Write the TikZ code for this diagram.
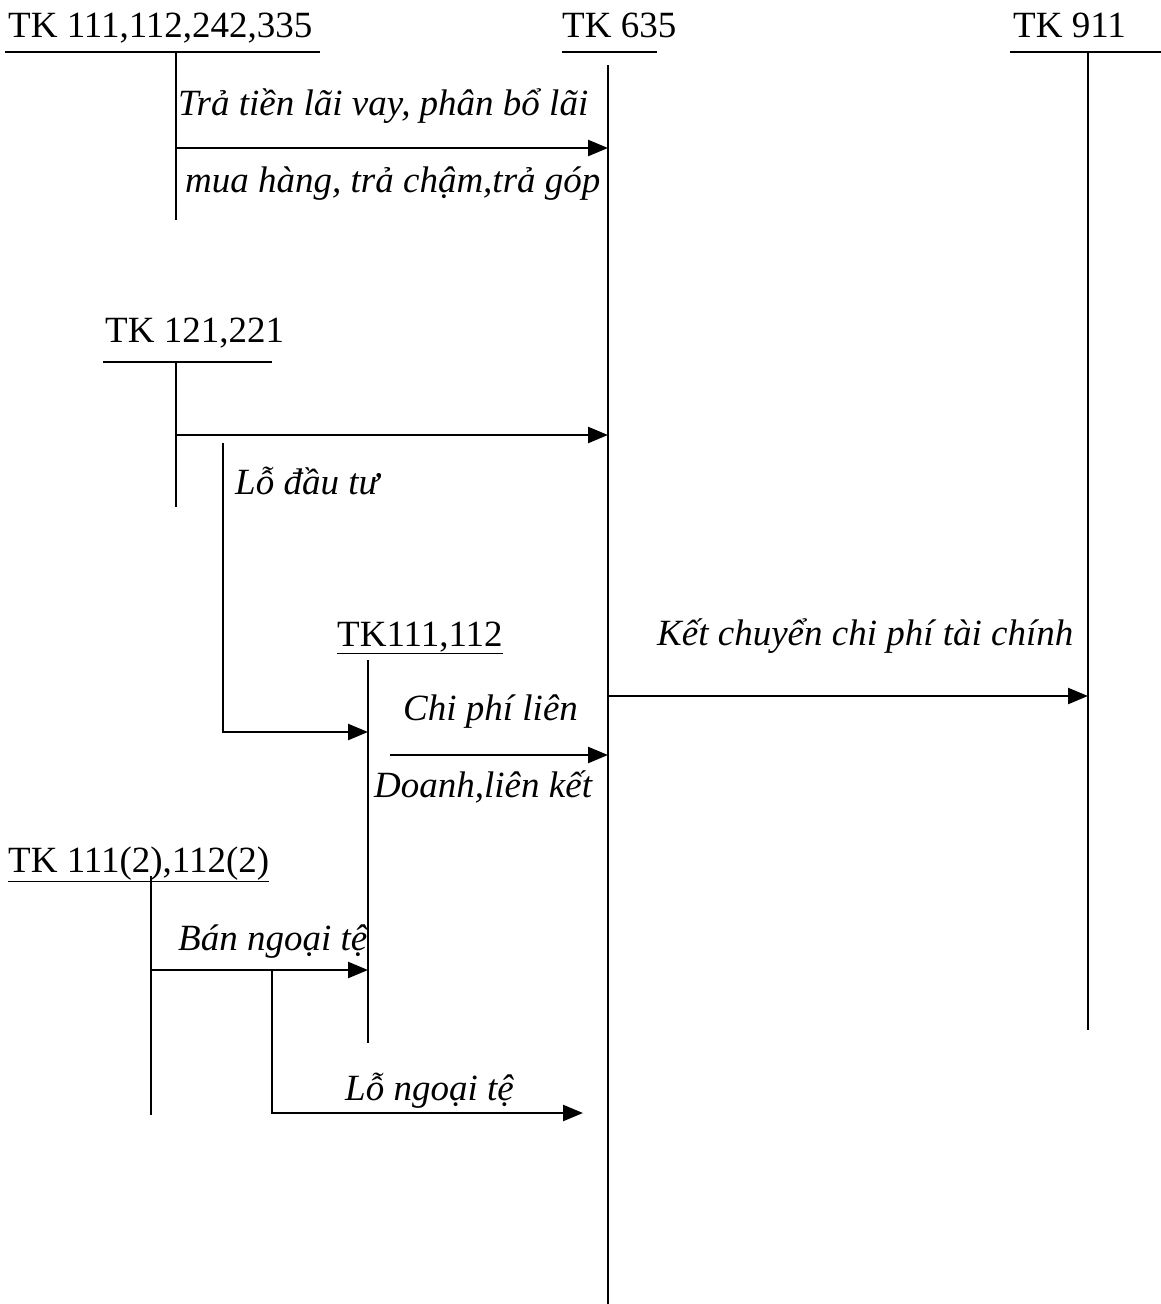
\documentclass[tikz,border=0pt]{standalone}
\usepackage{fontspec}
\setmainfont{Liberation Serif}
\usetikzlibrary{arrows.meta}

\begin{document}
\begin{tikzpicture}[x=1pt,y=-1pt,
  lbl/.style={inner sep=0pt,anchor=base west,font=\fontsize{37}{44}\selectfont},
  ilbl/.style={lbl,font=\fontsize{37}{44}\selectfont\itshape},
  acc/.style={line width=1.7pt},
  arr/.style={line width=2.4pt,-{Triangle[length=20pt,width=16pt]}}]
 \useasboundingbox (0,0) rectangle (1161,1304);
 % account headings
 \node[lbl] (tkA) at (8,37) {TK 111,112,242,335}; \draw[acc] (5,52)--(320,52);
 \node[lbl] (tkB) at (562,37) {TK 635}; \draw[acc] (562,52)--(657,52);
 \node[lbl] (tkC) at (1013,37) {TK 911}; \draw[acc] (1010,52)--(1161,52);
 \node[lbl] (tkD) at (105,342) {TK 121,221}; \draw[acc] (103,362)--(272,362);
 \node[lbl] (tkE) at (337,646) {\underline{TK111,112}};
 \node[lbl] (tkF) at (8,872) {\underline{TK 111(2),112(2)}};
 % account lines
 \coordinate (A1) at (176,52);  \coordinate (A2) at (176,220);
 \coordinate (B1) at (608,65);  \coordinate (B2) at (608,1304);
 \coordinate (C1) at (1088,52); \coordinate (C2) at (1088,1030);
 \coordinate (D1) at (176,362); \coordinate (D2) at (176,507);
 \coordinate (E1) at (368,660); \coordinate (E2) at (368,1043);
 \coordinate (F1) at (151,876); \coordinate (F2) at (151,1115);
 \foreach \a in {A,B,C,D,E,F} \draw[acc] (\a1)--(\a2);
 % entries
 \coordinate (pA) at (176,148); \coordinate (pB) at (608,148);
 \draw[arr] (pA)--(pB);
 \node[ilbl] (nA1) at (178,115) {Trả tiền lãi vay, phân bổ lãi};
 \node[ilbl] (nA2) at (185,192) {mua hàng, trả chậm,trả góp};
 \coordinate (pD) at (176,435); \coordinate (qB) at (608,435);
 \draw[arr] (pD)--(qB);
 \coordinate (lD) at (223,443); \coordinate (lE) at (368,732);
 \draw[arr] (lD)|-(lE);
 \node[ilbl] (nD) at (235,494) {Lỗ đầu tư};
 \coordinate (pE) at (390,755); \coordinate (rB) at (608,755);
 \draw[arr] (pE)--(rB);
 \node[ilbl] (nE1) at (403,720) {Chi phí liên};
 \node[ilbl] (nE2) at (374,797) {Doanh,liên kết};
 \coordinate (sB) at (608,696); \coordinate (pC) at (1088,696);
 \draw[arr] (sB)--(pC);
 \node[ilbl] (nC) at (657,645) {Kết chuyển chi phí tài chính};
 \coordinate (pF) at (151,970); \coordinate (qE) at (368,970);
 \draw[arr] (pF)--(qE);
 \node[ilbl] (nF1) at (178,950) {Bán ngoại tệ};
 \coordinate (lF) at (272,970); \coordinate (tB) at (583,1113);
 \draw[arr] (lF)|-(tB);
 \node[ilbl] (nF2) at (345,1100) {Lỗ ngoại tệ};
\end{tikzpicture}
\end{document}
